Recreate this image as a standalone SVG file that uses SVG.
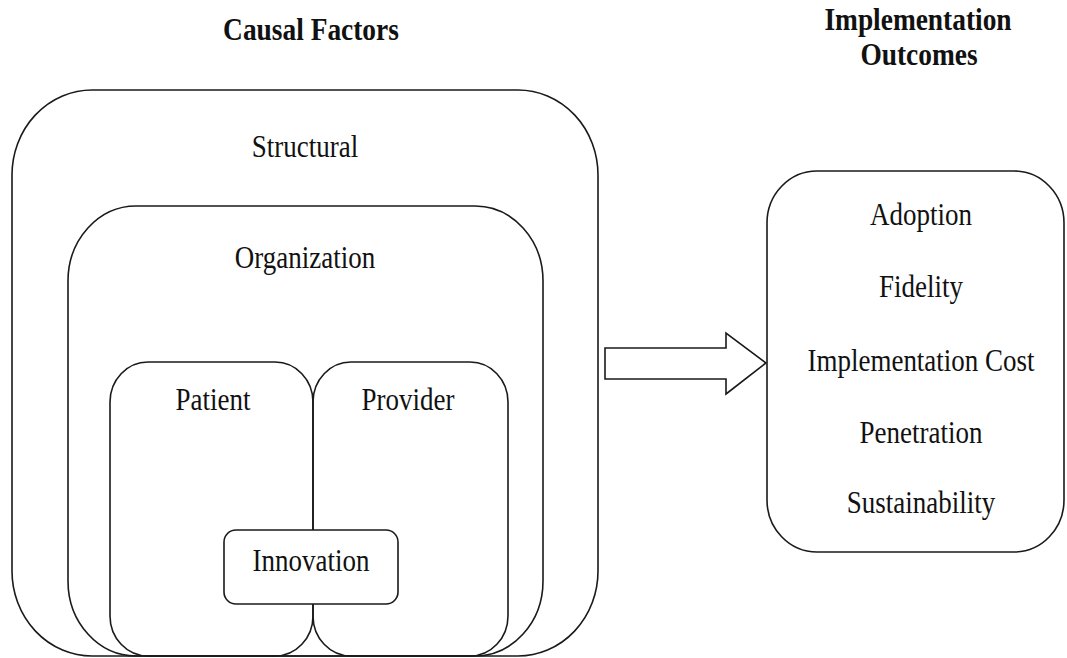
<svg xmlns="http://www.w3.org/2000/svg" width="1067" height="658" viewBox="0 0 1067 658">
<style>
.box{fill:none;stroke:#1a1a1a;stroke-width:1.6}
.wbox{fill:#fff;stroke:#1a1a1a;stroke-width:1.6}
.lbl{font-family:"Liberation Serif","Times New Roman",serif;font-size:31px;fill:#111;text-anchor:middle}
.ttl{font-family:"Liberation Serif","Times New Roman",serif;font-size:31.5px;font-weight:bold;fill:#111;text-anchor:middle}
</style>
<rect width="1067" height="658" fill="#fff"/>
<g id="title-causal"><text class="ttl" transform="translate(311,40) scale(0.87,1)">Causal Factors</text></g>
<g id="title-outcomes"><text class="ttl" transform="translate(918,30) scale(0.87,1)">Implementation</text><text class="ttl" transform="translate(919,65) scale(0.87,1)">Outcomes</text></g>
<g id="structural">
<rect class="box" x="12" y="90" width="586" height="566" rx="80" ry="85"/>
<text class="lbl" transform="translate(305,157) scale(0.87,1)">Structural</text>
</g>
<g id="organization">
<rect class="box" x="68" y="206" width="475" height="450" rx="68" ry="75"/>
<text class="lbl" transform="translate(305,268) scale(0.87,1)">Organization</text>
</g>
<g id="patient">
<rect class="box" x="110" y="362" width="203" height="294" rx="38" ry="40"/>
<text class="lbl" transform="translate(213,410) scale(0.87,1)">Patient</text>
</g>
<g id="provider">
<rect class="box" x="313" y="362" width="195" height="294" rx="38" ry="40"/>
<text class="lbl" transform="translate(408,410) scale(0.87,1)">Provider</text>
</g>
<g id="innovation">
<rect class="wbox" x="224" y="530" width="174" height="74" rx="12" ry="12"/>
<text class="lbl" transform="translate(311,571) scale(0.87,1)">Innovation</text>
</g>
<g id="connectors">
<polygon class="wbox" points="605,348 726,348 726,333 766,363 726,394 726,379 605,379"/>
</g>
<g id="outcomes">
<rect class="box" x="767" y="171" width="297" height="381" rx="50" ry="52"/>
<text class="lbl" transform="translate(921,225) scale(0.87,1)">Adoption</text>
<text class="lbl" transform="translate(921,297) scale(0.87,1)">Fidelity</text>
<text class="lbl" transform="translate(921,371) scale(0.87,1)">Implementation Cost</text>
<text class="lbl" transform="translate(921,443) scale(0.87,1)">Penetration</text>
<text class="lbl" transform="translate(921,513) scale(0.87,1)">Sustainability</text>
</g>
</svg>
